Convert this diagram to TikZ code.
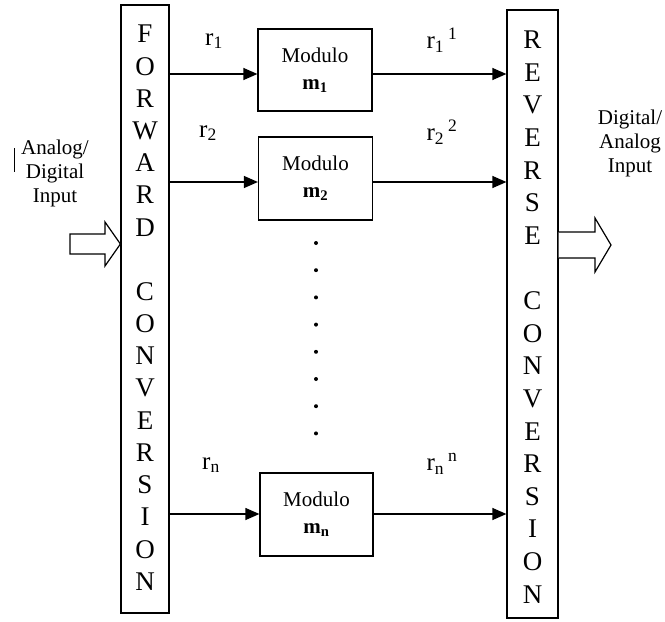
\documentclass[tikz,border=0pt]{standalone}
\usepackage{fontspec}
\setmainfont{Liberation Serif}
\usetikzlibrary{arrows.meta}
\tikzset{
  tallbox/.style={draw, line width=1.2pt, minimum width=48pt, inner sep=0pt},
  modbox/.style={draw, line width=1.2pt, minimum width=114pt, minimum height=82pt, align=center, inner sep=0pt, font=\fontsize{21}{27}\selectfont},
  letter/.style={font=\fontsize{27}{27}\selectfont, inner sep=0pt, anchor=center},
  lbl/.style={font=\fontsize{25}{25}\selectfont, inner sep=0pt},
  sidetext/.style={font=\fontsize{21}{24}\selectfont, align=center, inner sep=0pt},
  conn/.style={line width=1.2pt, -{Triangle[length=14pt,width=12pt]}},
  blockarrow/.style={draw, line width=1.2pt, fill=white},
  dotsty/.style={fill=black, circle, inner sep=0pt, minimum size=4pt}
}
\begin{document}
\begin{tikzpicture}[x=1pt,y=-1pt]
\useasboundingbox (0,0) rectangle (665,622);
% tall boxes
\node[tallbox, minimum height=608pt] (fwd) at (145,309) {};
\node[tallbox, minimum height=608pt, minimum width=51pt] (rev) at (532.5,314) {};
% letters
\foreach \ch [count=\i from 0] in {F,O,R,W,A,R,D,{},C,O,N,V,E,R,S,I,O,N}
  \node[letter] (f\i) at (145,{34+32.2*\i}) {\ch};
\foreach \ch [count=\i from 0] in {R,E,V,E,R,S,E,{},C,O,N,V,E,R,S,I,O,N}
  \node[letter] (g\i) at (532.5,{40+32.6*\i}) {\ch};
% modules
\node[modbox] (m1) at (315,70) {Modulo\\\textbf{m\textsubscript{1}}};
\node[modbox, minimum height=83pt] (m2) at (315.5,178.5) {Modulo\\\textbf{m\textsubscript{2}}};
\node[modbox, minimum height=83pt, minimum width=113pt] (mn) at (316.5,514.5) {Modulo\\\textbf{m\textsubscript{n}}};
% connectors
\draw[conn] (fwd.east |- 0,74) -- (m1.west |- 0,74);
\draw[conn] (m1.east |- 0,74) -- (rev.west |- 0,74);
\draw[conn] (fwd.east |- 0,182) -- (m2.west |- 0,182);
\draw[conn] (m2.east |- 0,182) -- (rev.west |- 0,182);
\draw[conn] (fwd.east |- 0,514) -- (mn.west |- 0,514);
\draw[conn] (mn.east |- 0,514) -- (rev.west |- 0,514);
% labels
\node[lbl] (l1) at (214,41) {r\textsubscript{1}};
\node[lbl] (l2) at (208,133) {r\textsubscript{2}};
\node[lbl] (ln) at (211,465) {r\textsubscript{n}};
\node[lbl] (k1) at (442,40) {r\textsubscript{1}\,\textsuperscript{1}};
\node[lbl] (k2) at (442,132) {r\textsubscript{2}\,\textsuperscript{2}};
\node[lbl] (kn) at (442,464) {r\textsubscript{n}\,\textsuperscript{n}};
% dots
\foreach \j in {0,...,7}
  \node[dotsty] (d\j) at (316,{243+27.2*\j}) {};
% side texts
\node[sidetext] (ain) at (55,173) {Analog/\\Digital\\Input};
\draw[line width=0.6pt] (14,148) -- (14,172);
\node[sidetext, anchor=north] (aout) at (630,110) {Digital/\\Analog\\Input};
% block arrows
\coordinate (ia) at (fwd.west |- 0,244);
\draw[blockarrow] (70,234) -- (105,234) -- (105,222) -- (ia) -- (105,266) -- (105,254) -- (70,254) -- cycle;
\coordinate (oa) at (rev.east |- 0,245);
\draw[blockarrow] (oa |- 0,232) -- (595,232) -- (595,218) -- (611,245) -- (595,272) -- (595,258) -- (oa |- 0,258);
\end{tikzpicture}
\end{document}
